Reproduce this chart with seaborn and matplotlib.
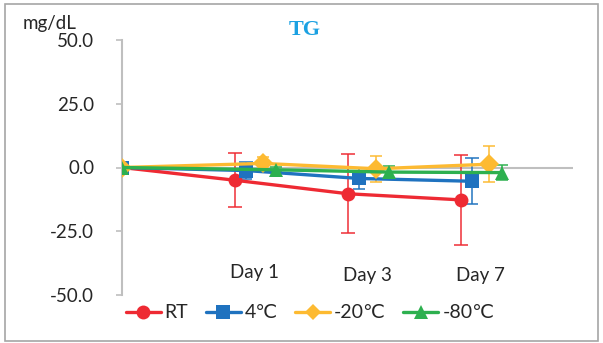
import numpy as np
import pandas as pd
import matplotlib
matplotlib.use("Agg")
import matplotlib.pyplot as plt
import seaborn as sns
from matplotlib.patches import Rectangle

# ---- data ----
days = ["Day 0", "Day 1", "Day 3", "Day 7"]
day_labels = ["Day 1", "Day 3", "Day 7"]
series = ["RT", "4℃", "-20℃", "-80℃"]
rt_vals = [0.0, -5.0, -10.3, -12.7]
rt_err = [0.0, 10.5, 15.5, 17.5]
c4_vals = [0.0, -1.2, -4.3, -5.4]
c4_err = [0.0, 3.5, 4.3, 9.0]
c20_vals = [0.0, 1.6, -0.5, 1.3]
c20_err = [0.0, 2.7, 5.0, 7.0]
c80_vals = [0.0, -0.9, -1.8, -2.0]
c80_err = [0.0, 1.0, 2.5, 3.0]
yticks = [50.0, 25.0, 0.0, -25.0, -50.0]

# ---- styling ----
colors = {"RT": "#EE2A33", "4℃": "#1F72BF", "-20℃": "#FDBA31", "-80℃": "#2DB04F"}
markers = {"RT": "o", "4℃": "s", "-20℃": "D", "-80℃": "^"}
msizes = {"RT": 10, "4℃": 9.5, "-20℃": 8, "-80℃": 10}
offsets = {"RT": 0.0, "4℃": 0.10, "-20℃": 0.25, "-80℃": 0.36}

vals = {"RT": rt_vals, "4℃": c4_vals, "-20℃": c20_vals, "-80℃": c80_vals}
errs = {"RT": rt_err, "4℃": c4_err, "-20℃": c20_err, "-80℃": c80_err}

rows = []
for s in series:
    for i, d in enumerate(days):
        rows.append({"series": s, "day": d, "idx": i,
                     "x": i + (offsets[s] if i > 0 else 0.0),
                     "value": vals[s][i], "err": errs[s][i]})
df = pd.DataFrame(rows)

sns.set_theme(style="white")
plt.rcParams["font.family"] = ["Lato", "DejaVu Sans"]

fig = plt.figure(figsize=(6.03, 3.43), dpi=100)
ax = fig.add_axes([122 / 603, 48 / 343, 451 / 603, 255 / 343])

# x axis line at zero
ax.axhline(0, color="#BFBFBF", lw=1.5, zorder=1)

# error bars
for s in series:
    sub = df[(df.series == s) & (df.idx > 0)]
    ax.errorbar(sub["x"], sub["value"], yerr=sub["err"], fmt="none",
                ecolor=colors[s], elinewidth=1.2, capsize=4, capthick=1.2,
                alpha=0.9, zorder=2)

sns.lineplot(data=df, x="x", y="value", hue="series", style="series",
             hue_order=series, style_order=series, palette=colors,
             markers=markers, dashes=False, lw=2.4, markersize=10,
             markeredgewidth=0, ax=ax, zorder=3, sort=False)

data_lines = [l for l in ax.lines if l.get_marker() not in (None, "None", "")][:4]
for s, line in zip(series, data_lines):
    line.set_markersize(msizes[s])

ax.set_xlim(0, 3.99)
ax.set_ylim(-50, 50)
ax.set_yticks(yticks)
ax.set_yticklabels([f"{v:.1f}" for v in yticks], fontsize=13.5, color="#262626")
ax.set_xticks([])
ax.set_xlabel("")
ax.set_ylabel("")
for sp in ["top", "right", "bottom"]:
    ax.spines[sp].set_visible(False)
ax.spines["left"].set_color("#BFBFBF")
ax.spines["left"].set_linewidth(1.5)
ax.tick_params(axis="y", direction="out", length=4, width=1.2, color="#BFBFBF",
               pad=16, left=True)

# category labels
label_y = [-41.0, -42.5, -42.3]
for i, (lab, ly) in enumerate(zip(day_labels, label_y)):
    ax.text(i + 1 + 0.17, ly, lab, ha="center", va="center", fontsize=13.5,
            color="#262626")

# legend
handles, labels = ax.get_legend_handles_labels()
if ax.get_legend() is not None:
    ax.get_legend().remove()
for h, s in zip(handles, labels):
    if s in msizes:
        h.set_markersize(msizes[s])
        h.set_linewidth(2.4)
fig.legend(handles, labels, loc="center", bbox_to_anchor=(310 / 603, 1 - 313 / 343),
           ncol=4, frameon=False, fontsize=14, handlelength=1.8,
           handletextpad=0.2, columnspacing=0.9, labelcolor="#262626")

fig.text(23 / 603, 1 - 24 / 343, "mg/dL", fontsize=13.5, color="#262626",
         ha="left", va="center")
fig.text(305 / 603, 1 - 30 / 343, "TG", fontsize=16, fontweight="bold",
         family="Liberation Serif", color="#1BA1E2", ha="center", va="center")

# outer frame
fig.patches.append(Rectangle((5 / 603, 2 / 343), 593 / 603, 337 / 343,
                             transform=fig.transFigure, fill=False,
                             edgecolor="#A6A6A6", lw=1.2))

fig.savefig("out.png", dpi=100)
